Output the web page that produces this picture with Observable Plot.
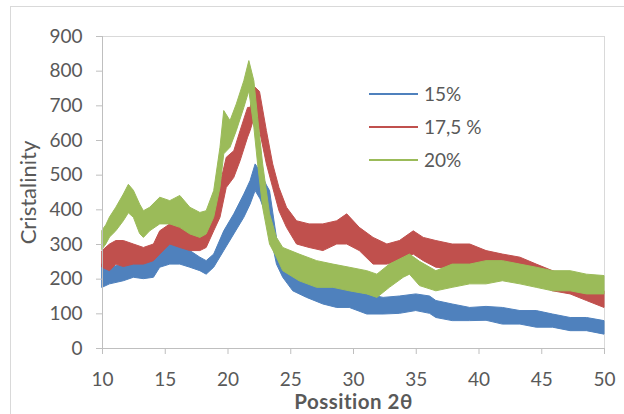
<!DOCTYPE html>
<html>
<head>
<meta charset="utf-8">
<script src="https://cdn.jsdelivr.net/npm/d3@7"></script>
<script src="https://cdn.jsdelivr.net/npm/@observablehq/plot@0.6"></script>
<style>
  html, body { margin: 0; padding: 0; background: #fff; overflow: hidden; }
  #wrap { position: relative; width: 624px; height: 414px; }
  #border { position: absolute; left: 10px; top: 6px; width: 700px; height: 500px; border: 1px solid #d9d9d9; box-sizing: border-box; }
  #chart { position: absolute; left: 0; top: 0; }
  #legend { position: absolute; left: 369px; top: 77px; font-family: Lato, sans-serif; font-size: 19px; color: #595959; }
  .item { display: flex; align-items: center; height: 33px; }
  .item svg { margin-right: 6px; }
</style>
</head>
<body>
<div id="wrap">
  <div id="border"></div>
  <div id="chart"></div>
  <div id="legend"></div>
</div>
<script>
// Diffraction intensity bands (lower / upper edge of the noisy trace) per sample
const seriesNames = ["15%", "17,5 %", "20%"];
const seriesColors = ["#4f81bd", "#c0504d", "#9bbb59"];

const theta15 = [10.0, 10.6, 11.7, 12.5, 13.3, 14.1, 14.6, 15.4, 16.2, 17.0, 17.8, 18.3, 18.9, 19.7, 20.5, 21.3, 21.8, 22.2, 22.6, 23.1, 23.35, 23.9, 24.4, 25.2, 26.3, 27.6, 28.7, 29.7, 31.1, 32.4, 33.7, 35.0, 36.1, 36.6, 37.9, 39.3, 40.6, 41.9, 43.3, 44.6, 45.9, 47.3, 48.6, 50.0];
const lo15 = [175, 185, 194, 204, 200, 204, 233, 242, 242, 233, 223, 213, 233, 281, 329, 377, 415, 454, 430, 380, 338, 242, 204, 165, 146, 127, 117, 117, 98, 98, 100, 108, 100, 88, 79, 79, 80, 69, 69, 60, 60, 50, 50, 40];
const hi15 = [242, 233, 242, 252, 250, 262, 281, 300, 300, 281, 262, 252, 271, 338, 387, 444, 483, 531, 510, 470, 454, 319, 262, 223, 194, 185, 175, 165, 156, 146, 150, 156, 150, 137, 127, 117, 120, 117, 108, 108, 98, 88, 88, 79];

const theta175 = [10.0, 10.6, 11.1, 11.7, 12.5, 13.3, 14.1, 14.6, 15.4, 16.2, 17.0, 17.8, 18.3, 18.9, 19.4, 19.9, 20.5, 21.0, 21.6, 21.8, 22.2, 22.55, 23.1, 23.6, 24.1, 24.7, 25.5, 26.5, 27.6, 28.7, 29.5, 30.5, 31.6, 32.7, 33.7, 34.8, 35.6, 36.6, 37.9, 39.3, 40.6, 41.9, 43.3, 44.6, 45.9, 47.3, 48.6, 50.0];
const lo175 = [233, 223, 242, 235, 242, 242, 252, 271, 300, 290, 281, 281, 290, 338, 377, 463, 492, 540, 608, 627, 675, 627, 531, 463, 396, 348, 300, 290, 281, 300, 300, 281, 242, 242, 252, 271, 252, 233, 230, 233, 223, 204, 194, 185, 165, 156, 137, 117];
const hi175 = [281, 300, 310, 310, 300, 290, 300, 338, 358, 358, 338, 329, 348, 415, 473, 550, 569, 627, 694, 694, 752, 740, 627, 531, 463, 406, 367, 358, 358, 367, 387, 348, 319, 300, 310, 338, 319, 310, 300, 300, 281, 271, 262, 242, 223, 204, 185, 165];

const theta20 = [10.0, 10.3, 10.6, 11.1, 11.7, 12.1, 12.5, 13.0, 13.3, 13.8, 14.6, 15.4, 16.2, 17.0, 17.8, 18.3, 18.9, 19.4, 19.7, 20.2, 20.7, 21.3, 21.7, 22.1, 22.4, 22.8, 23.35, 23.9, 24.4, 25.7, 27.1, 28.4, 29.7, 31.1, 31.9, 32.9, 34.0, 34.5, 35.3, 36.6, 37.9, 39.3, 40.6, 41.9, 43.3, 44.6, 45.9, 47.3, 48.6, 50.0];
const lo20 = [285, 300, 320, 338, 367, 390, 377, 330, 319, 338, 358, 358, 348, 329, 319, 329, 377, 463, 560, 579, 627, 694, 742, 637, 531, 406, 300, 262, 223, 194, 175, 175, 165, 156, 146, 175, 204, 213, 180, 165, 175, 185, 185, 194, 185, 175, 165, 165, 156, 156];
const hi20 = [340, 355, 378, 406, 444, 472, 455, 415, 396, 406, 435, 425, 440, 406, 391, 396, 454, 579, 685, 656, 704, 771, 829, 771, 665, 531, 387, 319, 290, 271, 252, 242, 233, 223, 213, 242, 262, 271, 250, 223, 242, 242, 252, 252, 242, 233, 223, 223, 213, 209];

const xTicks = [10, 15, 20, 25, 30, 35, 40, 45, 50];
const yTicks = [0, 100, 200, 300, 400, 500, 600, 700, 800, 900];

const rows = (theta, lo, hi) => theta.map((t, i) => ({theta: t, lo: lo[i], hi: hi[i]}));
const bands = [rows(theta15, lo15, hi15), rows(theta175, lo175, hi175), rows(theta20, lo20, hi20)];

const chart = Plot.plot({
  width: 624,
  height: 414,
  marginLeft: 102,
  marginRight: 20,
  marginTop: 36,
  marginBottom: 66,
  style: {fontFamily: "Lato, sans-serif", fontSize: "19px", color: "#595959", background: "transparent"},
  x: {domain: [10, 50]},
  y: {domain: [0, 900]},
  marks: [
    Plot.frame({stroke: "#d9d9d9"}),
    ...bands.map((b, i) => Plot.areaY(b, {x: "theta", y1: "lo", y2: "hi", fill: seriesColors[i], stroke: seriesColors[i], strokeWidth: 1})),
    Plot.ruleX([10], {stroke: "#bfbfbf"}),
    Plot.ruleY([0], {stroke: "#bfbfbf"}),
    Plot.axisY({ticks: yTicks, tickSize: 6, tickPadding: 14, stroke: "#bfbfbf", fill: "#595959",
      label: "Cristalinity", labelAnchor: "center", labelOffset: 82, labelArrow: "none"}),
    Plot.axisX({ticks: xTicks, tickSize: 6, tickPadding: 18, stroke: "#bfbfbf", fill: "#595959",
      label: "Possition 2θ", labelAnchor: "center", labelOffset: 60, labelArrow: "none"})
  ]
});
d3.select(chart).selectAll('[aria-label="x-axis label"] text')
  .style("font-weight", "bold").style("font-size", "20.5px").style("letter-spacing", "0.5px");
d3.select(chart).selectAll('[aria-label="y-axis label"] text')
  .style("font-size", "22px");
document.getElementById("chart").appendChild(chart);

// Legend entries
const legend = d3.select("#legend");
seriesNames.forEach((name, i) => {
  const item = legend.append("div").attr("class", "item");
  const s = item.append("svg").attr("width", 49).attr("height", 4);
  s.append("line").attr("x1", 0).attr("x2", 49).attr("y1", 2).attr("y2", 2)
    .attr("stroke", seriesColors[i]).attr("stroke-width", 2);
  item.append("span").text(name);
});
</script>
</body>
</html>
